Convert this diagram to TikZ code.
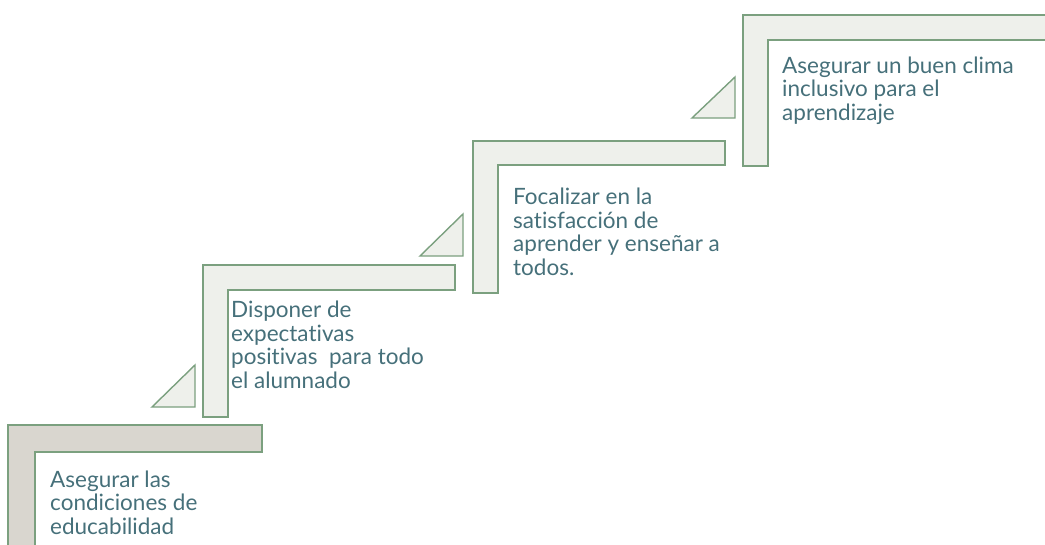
\documentclass[tikz,border=0pt]{standalone}
\usepackage{fontspec}
\setmainfont{Lato}[Ligatures=NoCommon]
\usetikzlibrary{positioning}

\definecolor{stepline}{HTML}{7BA07F}
\definecolor{stepfill}{HTML}{EEF0EB}
\definecolor{basefill}{HTML}{D9D6CF}
\definecolor{steptext}{HTML}{46707A}

\begin{document}
\begin{tikzpicture}[x=1pt, y=-1pt,
        stair/.style={draw=stepline, fill=stepfill, line width=1.4pt, line join=miter},
        wedge/.style={draw=stepline, fill=stepfill, line width=1.4pt},
        label/.style={anchor=base west, inner sep=0pt, align=left, text=steptext,
          font=\fontsize{22.5}{23.5}\selectfont}]

      \useasboundingbox (0,0) rectangle (1045,544);
      \clip (0,0) rectangle (1045,544);

      % Steps
      \path[stair, fill=basefill] (8,425) -- (262,425) -- (262,452) -- (35,452) -- (35,560) -- (8,560) -- cycle;
      \path[stair] (203,265) -- (455,265) -- (455,290) -- (228,290) -- (228,417) -- (203,417) -- cycle;
      \path[stair] (473,141) -- (725,141) -- (725,165) -- (498,165) -- (498,293) -- (473,293) -- cycle;
      \path[stair] (743,15) -- (1060,15) -- (1060,40) -- (768,40) -- (768,166) -- (743,166) -- cycle;

      % Wedges between steps
      \path[wedge] (152,407) -- (195,407) -- (195,365) -- cycle;
      \path[wedge] (420,256) -- (463,256) -- (463,214) -- cycle;
      \path[wedge] (692,118) -- (735,118) -- (735,77) -- cycle;

      % Texts (anchored at the baseline of the last line)
      \node[label] (condiciones) at (50,534) {Asegurar las\\condiciones de\\educabilidad};
      \node[label] (expectativas) at (231,388) {Disponer de\\expectativas\\positivas\ \ para todo\\el alumnado};
      \node[label] (satisfaccion) at (513,275) {Focalizar en la\\satisfacción de\\aprender y enseñar a\\todos.};
      \node[label] (clima) at (782,120) {Asegurar un buen clima\\inclusivo para el\\aprendizaje};

    \end{tikzpicture}
\end{document}
